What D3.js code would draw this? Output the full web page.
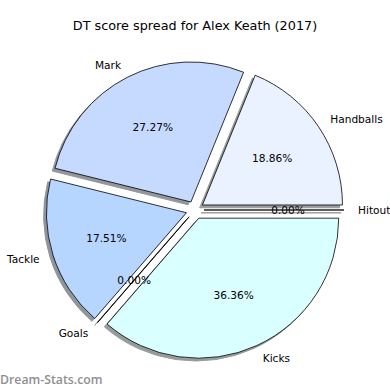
<!DOCTYPE html>
<html>
<head>
<meta charset="utf-8">
<script src="https://cdn.jsdelivr.net/npm/d3@7"></script>
<style>
  body { margin: 0; background: #fff; }
  text { font-family: "DejaVu Sans", sans-serif; }
</style>
</head>
<body>
<script>
// Slice data, in drawing order (counterclockwise from 3 o'clock)
const labels = ['Handballs', 'Mark', 'Tackle', 'Goals', 'Kicks', 'Hitout']
const values = [18.86, 27.27, 17.51, 0.00, 36.36, 0.00]
const colors = ['#ebf2ff', '#c6d9ff', '#b6d6ff', '#c8ffff', '#d9ffff', '#f0f0ff']
const title = 'DT score spread for Alex Keath (2017)'

const width = 390, height = 390
const cx = 195, cy = 210
const radius = 140
const explode = 9

const svg = d3.select('body').append('svg')
  .attr('width', width).attr('height', height)

// Title
svg.append('text')
  .attr('x', width/2).attr('y', 30)
  .attr('text-anchor', 'middle')
  .style('font-size', '12.8px')
  .text(title)

const total = d3.sum(values)
// value -> matplotlib style angle (counterclockwise from +x)
const theta = d3.scaleLinear().domain([0, total]).range([0, Math.PI*2])

const pie = d3.pie().sort(null).value(d => d)
const slices = pie(values).map((p, i) => {
  let t1 = theta(p.startAngle / (Math.PI*2) * total)
  let t2 = theta(p.endAngle / (Math.PI*2) * total)
  let mid = (t1 + t2) / 2
  return {
    i: i,
    label: labels[i],
    value: values[i],
    // d3.arc angles: clockwise from 12 o'clock
    a0: Math.PI/2 - t2,
    a1: Math.PI/2 - t1,
    dx: explode*Math.cos(mid),
    dy: -explode*Math.sin(mid),
    mid: mid
  }
})

const arc = d3.arc().innerRadius(0).outerRadius(radius)

const g = svg.append('g').attr('transform', `translate(${cx},${cy})`)

// Shadows first (under all wedges)
const shade = i => { let c = d3.rgb(colors[i]); return d3.rgb(c.r*0.3, c.g*0.3, c.b*0.3) }
g.selectAll('path.shadow').data(slices).join('path')
  .attr('class', 'shadow')
  .attr('d', d => arc({startAngle: d.a0, endAngle: d.a1}))
  .attr('transform', d => `translate(${d.dx - radius*0.02},${d.dy + radius*0.02})`)
  .style('fill', d => shade(d.i))
  .style('stroke', d => shade(d.i))
  .style('stroke-width', 1)
  .style('opacity', 0.55)

// Wedges
g.selectAll('path.wedge').data(slices).join('path')
  .attr('class', 'wedge')
  .attr('d', d => arc({startAngle: d.a0, endAngle: d.a1}))
  .attr('transform', d => `translate(${d.dx},${d.dy})`)
  .style('fill', d => colors[d.i])
  .style('stroke', '#000')
  .style('stroke-width', 0.8)
  .style('stroke-linejoin', 'round')

// Outer labels
g.selectAll('text.label').data(slices).join('text')
  .attr('class', 'label')
  .attr('x', d => d.dx + 1.1*radius*Math.cos(d.mid))
  .attr('y', d => d.dy - 1.1*radius*Math.sin(d.mid))
  .attr('text-anchor', d => Math.cos(d.mid) < 0 ? 'end' : 'start')
  .attr('dominant-baseline', 'central')
  .style('font-size', '10.6px')
  .text(d => d.label)

// Percentages
g.selectAll('text.pct').data(slices).join('text')
  .attr('class', 'pct')
  .attr('x', d => d.dx + 0.6*radius*Math.cos(d.mid))
  .attr('y', d => d.dy - 0.6*radius*Math.sin(d.mid))
  .attr('text-anchor', 'middle')
  .attr('dominant-baseline', 'central')
  .style('font-size', '10.6px')
  .text(d => (d.value / total * 100).toFixed(2) + '%')

// Watermark
svg.append('text')
  .attr('x', 0).attr('y', 384)
  .style('font-family', '"Open Sans", sans-serif')
  .style('font-weight', 600)
  .style('font-size', '12.3px')
  .style('fill', '#8f8f8f')
  .text('Dream-Stats.com')
</script>
</body>
</html>
